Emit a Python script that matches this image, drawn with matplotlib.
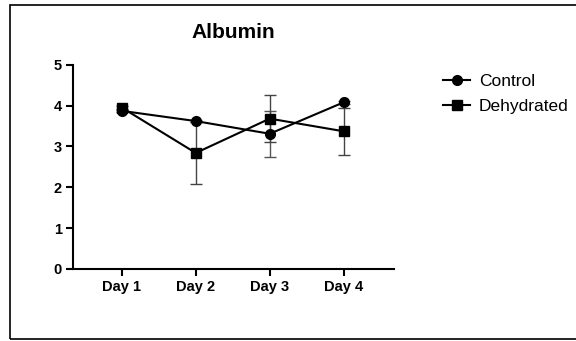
import numpy as np
import matplotlib.pyplot as plt
from matplotlib.patches import Rectangle

plt.rcParams['font.family'] = ['Liberation Sans', 'DejaVu Sans']

days = ["Day 1", "Day 2", "Day 3", "Day 4"]
control = [3.87, 3.62, 3.31, 4.08]
control_err = [0.02, 0.03, 0.56, 0.04]
dehydrated = [3.95, 2.84, 3.68, 3.37]
dehydrated_err = [0.03, 0.76, 0.57, 0.58]

fig = plt.figure(figsize=(5.76, 3.41), dpi=100)
fig.patches.append(Rectangle((10 / 576, 2 / 341), 1.2, 334 / 341, transform=fig.transFigure,
                             fill=False, edgecolor='black', linewidth=1.2))
ax = fig.add_axes([73 / 576, 1 - 269 / 341, (394 - 73) / 576, (269 - 64.7) / 341])

x = np.arange(len(days))
ax.errorbar(x, control, yerr=control_err, color='black', ecolor='#555555', elinewidth=1,
            capsize=4, capthick=1, marker='o', ms=7, lw=1.5, label='Control')
ax.errorbar(x, dehydrated, yerr=dehydrated_err, color='black', ecolor='#444444', elinewidth=1,
            capsize=4, capthick=1, marker='s', ms=7, lw=1.5, label='Dehydrated')

ax.set_xlim(-0.66, 3.68)
ax.set_ylim(0, 5)
ax.set_xticks(x)
ax.set_xticklabels(days, fontweight='bold', fontsize=10.5)
ax.set_yticks(range(6))
ax.set_yticklabels([str(i) for i in range(6)], fontweight='bold', fontsize=10.5)
ax.tick_params(direction='out', length=5, width=1.5, pad=3)
for s in ['top', 'right']:
    ax.spines[s].set_visible(False)
for s in ['left', 'bottom']:
    ax.spines[s].set_linewidth(1.5)

ax.set_title('Albumin', fontweight='bold', fontsize=15, pad=19)

handles, labels = ax.get_legend_handles_labels()
handles = [h[0] for h in handles]
ax.legend(handles, labels, loc='upper left', bbox_to_anchor=(1.105, 1.03), frameon=False,
          fontsize=12.5, handlelength=1.55, handletextpad=0.5, labelspacing=0.55)

fig.savefig('out.png', dpi=100)
